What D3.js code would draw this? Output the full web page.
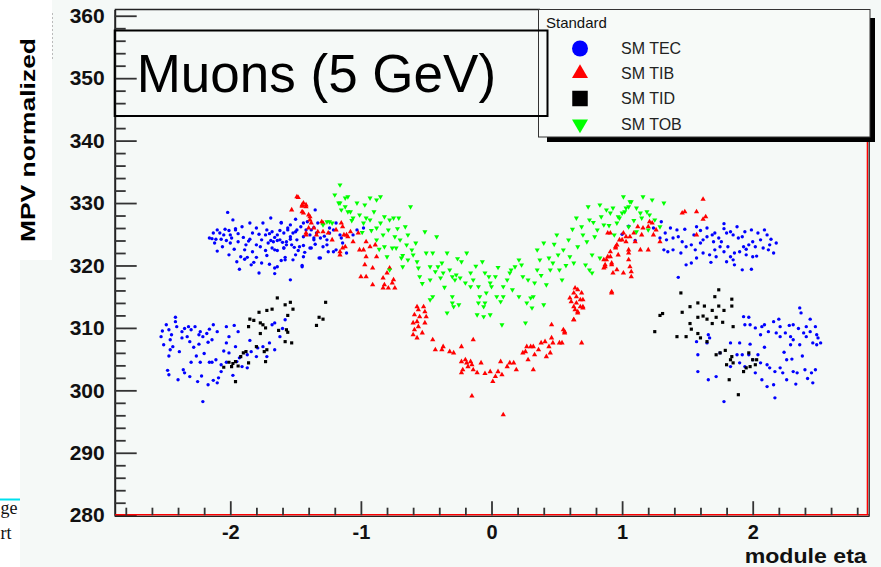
<!DOCTYPE html>
<html><head><meta charset="utf-8">
<script src="https://cdn.jsdelivr.net/npm/d3@7"></script>
<style>html,body{margin:0;padding:0;background:#f5f9f7;} svg{display:block}</style>
</head><body>
<svg id="c" width="881" height="567"></svg>
<script>
// ---------------- data ----------------
const yMajorTicks = [280,290,300,310,320,330,340,350,360];
const yMinorTicks = d3.range(280, 361, 2);
const xMajorTicks = [-2,-1,0,1,2];
const xMinorTicks = [-2.8,-2.6,-2.4,-2.2,-1.8,-1.6,-1.4,-1.2,-0.8,-0.6,-0.4,-0.2,0.2,0.4,0.6,0.8,1.2,1.4,1.6,1.8,2.2,2.4,2.6,2.8];
const seriesNames = ["SM TEC","SM TIB","SM TID","SM TOB"];
const legendTitle = "Standard";
const chartTitle = "Muons (5 GeV)";
const xTitle = "module eta";
const yTitle = "MPV normalized";

const tecPoints = [
[-2.02,328.5],[-2.10,325.7],[-2.04,325.8],[-2.01,325.6],[-2.05,324.9],[-2.14,324.3],[-2.11,324.2],[-2.07,324.2],[-2.03,324.0],[-2.00,324.9],
[-1.96,325.7],[-1.94,325.1],[-1.94,323.8],[-2.00,323.6],[-2.12,323.6],[-2.10,322.3],[-2.01,321.7],[-1.92,321.4],[-1.89,321.0],[-1.87,321.3],
[-1.93,319.4],[-1.84,320.1],[-1.82,320.5],[-1.76,320.4],[-1.78,318.8],[-1.66,318.7],[-1.66,319.6],[-1.88,323.3],[-1.85,324.2],[-1.83,325.2],
[-1.80,326.0],[-1.75,326.8],[-1.72,325.7],[-1.70,325.1],[-1.66,324.5],[-1.64,324.0],[-1.62,325.6],[-1.61,326.9],[-1.71,323.6],[-1.68,322.8],
[-1.64,322.4],[-1.59,322.8],[-1.57,323.3],[-1.54,324.2],[-1.52,325.2],[-1.49,325.7],[-1.46,326.2],[-1.44,326.8],[-1.41,327.0],[-1.38,325.7],
[-1.36,326.1],[-1.33,326.8],[-1.54,326.5],[-1.58,321.3],[-1.61,320.8],[-1.52,320.9],[-1.45,320.0],[-1.54,317.7],[-1.50,321.7],[-1.48,322.4],
[-1.44,323.2],[-1.39,322.8],[-1.32,321.2],[-1.36,324.4],[-1.77,323.0],[-1.73,322.4],[-1.72,321.6],[-1.80,321.3],[-1.83,322.2],[-1.89,322.5],
[-1.59,325.2],[-1.56,325.7],[-1.90,324.5],[-1.91,326.2],[-1.96,325.9],[-2.13,325.2],[-2.08,325.2],[-1.99,324.4],[-1.80,323.3],[-1.76,324.1],
[-1.73,324.9],[-1.26,324.1],[-1.24,325.2],[-1.29,323.0],[-1.25,322.2],[-1.21,325.7],[-1.16,324.9],[-1.14,323.6],[-1.19,322.5],
[-1.68,325.4],[-1.64,324.9],[-1.67,323.8],[-1.62,324.1],[-1.66,322.5],[-1.59,322.8],[-1.57,323.8],[-1.54,324.6],[-1.61,326.8],[-1.56,326.0],
[-1.50,325.4],[-1.49,324.1],[-1.53,323.3],[-1.47,323.0],[-1.44,324.6],[-1.42,325.7],[-1.39,324.9],[-1.36,324.1],[-1.35,328.9],[-1.34,325.2],
[-1.31,324.4],[-1.38,322.8],[-1.44,321.4],[-1.58,320.9],[-1.64,319.8],[-1.45,319.8],[-1.31,321.2],[-1.26,323.3],[-1.21,322.2],[-1.15,324.4],
[-1.11,322.0],[-1.03,325.7],[-0.98,326.0],[-1.06,324.9],[-1.19,326.8],[-1.24,326.0],
[-2.16,324.4],[-2.06,323.0],[-1.97,322.6],[-1.86,323.9],[-1.78,325.0],[-1.69,324.0],[-1.60,323.7],[-1.51,322.9],[-1.43,322.1],[-1.35,323.4],
[-1.28,324.7],[-1.95,320.6],[-1.70,320.2],[-1.98,327.3],[-1.85,326.8],[-1.69,327.6],[-1.50,327.4],
[-2.42,311.7],[-2.42,311.0],[-2.49,310.5],[-2.47,309.7],[-2.53,308.6],[-2.45,308.9],[-2.51,307.3],[-2.46,308.1],[-2.46,306.5],[-2.47,305.5],
[-2.41,310.2],[-2.37,309.4],[-2.35,309.9],[-2.32,310.2],[-2.30,309.7],[-2.27,310.2],[-2.37,308.4],[-2.33,308.6],[-2.31,307.8],[-2.24,308.9],
[-2.23,309.4],[-2.21,308.6],[-2.18,309.1],[-2.16,309.8],[-2.13,310.5],[-2.10,309.4],[-2.17,307.7],[-2.24,307.4],[-2.14,308.1],[-2.03,310.2],
[-1.97,310.4],[-2.01,308.6],[-1.94,309.4],[-2.03,307.6],[-2.26,305.5],[-2.30,304.5],[-2.23,304.5],[-2.16,304.5],[-2.11,304.9],[-2.48,303.2],
[-2.47,302.5],[-2.36,303.3],[-2.35,302.8],[-2.40,301.7],[-2.31,302.2],[-2.25,301.4],[-2.22,302.3],[-2.21,298.2],[-2.17,300.9],[-2.13,301.6],
[-2.09,302.0],[-2.07,303.0],[-2.07,304.1],[-2.03,304.5],[-2.01,306.0],[-1.96,307.0],[-1.95,304.6],[-1.93,305.2],[-1.87,305.7],[-1.84,306.2],
[-1.80,305.4],[-1.79,306.8],[-1.75,307.0],[-1.72,305.4],[-1.70,307.6],[-1.66,306.5],[-1.68,310.5],[-1.66,310.8],[-1.87,303.6],[-1.91,303.8],
[-2.10,301.2],[-2.14,304.5],[-2.52,309.5],[-2.44,307.0],[-2.39,306.2],[-2.28,306.9],[-2.20,305.9],[-2.05,306.3],[-1.98,302.4],[-1.85,308.0],
[-1.62,308.6],[-1.60,309.9],[-1.58,311.3],
[1.78,326.7],[1.65,326.0],[1.57,326.2],[1.55,324.9],[1.48,325.8],[1.42,325.7],[1.37,326.0],[1.33,325.2],[1.29,324.4],[1.34,324.1],
[1.39,324.4],[1.43,324.6],[1.46,323.8],[1.49,323.0],[1.53,323.3],[1.56,322.5],[1.60,323.6],[1.62,324.1],[1.65,324.6],[1.69,324.9],
[1.71,325.2],[1.74,324.4],[1.76,323.8],[1.80,325.2],[1.83,325.4],[1.85,324.9],[1.89,324.4],[1.92,324.6],[1.94,325.4],[1.99,325.7],
[2.04,325.2],[2.09,325.7],[2.11,324.9],[2.06,324.1],[2.00,323.8],[1.97,323.3],[1.93,323.0],[1.90,322.2],[1.86,322.0],[1.83,321.4],
[1.78,322.2],[1.75,323.0],[1.71,322.5],[1.67,321.7],[1.62,322.0],[1.57,321.2],[1.53,320.4],[1.49,320.1],[1.72,321.4],[1.85,320.9],
[1.86,320.1],[1.92,319.3],[1.99,319.4],[2.00,321.4],[2.03,321.5],[2.08,322.8],[2.12,322.5],[2.16,322.0],[2.13,323.3],[1.43,318.1],
[1.39,322.5],[1.35,322.2],[1.32,322.5],[1.24,326.0],[1.70,323.8],[1.81,323.0],[1.95,321.7],[1.80,320.6],
[1.00,325.0],[1.05,326.3],[1.10,324.0],[1.30,327.0],[1.45,322.0],[1.60,325.6],[1.78,325.9],[1.88,326.2],[2.02,323.0],[2.14,324.2],
[1.68,320.5],[1.95,322.6],[2.18,323.6],
[2.36,313.2],[2.37,312.4],[1.93,311.8],[1.97,311.7],[2.16,311.0],[1.94,310.5],[1.98,310.5],[2.07,310.2],[2.09,310.5],[2.21,310.2],
[2.31,310.5],[2.35,309.9],[2.41,310.2],[2.44,309.4],[2.48,310.2],[2.49,308.9],[2.06,308.9],[2.12,309.4],[2.18,309.2],[2.21,308.6],
[2.25,309.2],[2.29,308.6],[2.31,308.1],[2.39,309.2],[2.41,308.6],[2.46,307.6],[2.49,307.3],[2.36,307.3],[2.29,307.3],[1.66,308.9],
[1.67,308.4],[1.57,307.8],[1.65,307.6],[1.58,305.7],[1.75,306.0],[1.83,307.6],[1.90,307.6],[1.92,305.7],[1.97,305.7],[2.04,305.7],
[2.00,304.9],[2.06,304.4],[2.11,304.1],[2.13,303.6],[2.17,303.0],[2.21,303.6],[2.23,302.8],[2.26,304.9],[2.31,303.0],[2.34,302.8],
[2.40,303.3],[2.45,302.8],[2.48,303.3],[2.46,301.2],[2.26,301.7],[2.16,300.9],[2.11,300.6],[2.07,301.7],[2.17,298.8],[2.02,302.8],
[1.90,304.4],[1.88,305.7],[1.83,303.8],[1.72,302.2],[1.66,301.7],[1.78,298.2],[1.58,303.0],[1.94,303.8],
[2.52,307.6],[2.50,308.4],[2.44,311.4],[2.28,310.4],[2.20,311.4],[2.02,310.0],[2.38,305.5],[2.30,305.0],[2.24,306.1],[2.09,306.9],
[1.98,307.4],[2.42,301.9],[2.33,301.0]
];

const tibPoints = [
[-1.49,331.0],[-1.53,328.9],[-1.45,329.7],[-1.42,329.4],[-1.44,328.4],[-1.39,327.8],[-1.38,326.8],[-1.40,326.0],[-1.42,324.9],[-1.33,325.4],
[-1.29,326.8],[-1.25,325.2],[-1.19,325.7],[-1.14,326.2],[-1.11,324.9],[-1.16,322.2],[-1.14,322.8],
[-1.48,330.9],[-1.45,329.5],[-1.44,330.0],[-1.42,329.7],[-1.45,328.6],[-1.40,328.1],[-1.39,327.3],[-1.36,326.0],[-1.42,325.2],
[-1.34,324.9],[-1.30,327.0],[-1.29,325.4],[-1.22,324.1],[-1.15,326.8],[-1.13,324.9],[-1.10,324.6],[-1.08,325.4],[-1.06,323.8],[-1.16,321.7],
[-1.12,323.0],[-1.02,325.2],[-1.01,322.5],[-0.98,322.5],[-0.96,323.8],[-0.96,321.4],[-0.97,320.1],[-0.93,323.0],[-0.89,323.3],[-0.88,321.4],
[-1.00,318.2],[-0.96,318.2],[-0.91,319.6],[-0.91,316.9],[-0.83,318.0],[-0.82,316.9],[-0.80,318.8],[-0.79,316.4],[-0.76,317.2],[-0.75,317.7],
[-0.83,316.4],[-0.74,316.4],[-0.78,319.6],
[-0.57,313.4],[-0.56,312.9],[-0.59,312.1],[-0.55,311.8],[-0.57,311.0],[-0.56,310.2],[-0.59,309.7],[-0.60,308.9],[-0.57,308.4],[-0.51,312.6],
[-0.50,311.8],[-0.51,310.8],[-0.52,313.4],[-0.53,309.2],[-0.60,310.8],
[-0.45,308.1],[-0.43,306.5],[-0.38,306.5],[-0.37,307.0],[-0.32,306.2],[-0.29,306.0],[-0.23,307.0],[-0.23,304.6],[-0.20,304.9],[-0.19,304.4],
[-0.16,304.6],[-0.18,303.8],[-0.15,304.1],[-0.14,303.3],[-0.22,303.3],[-0.23,302.8],[-0.14,308.1],[-0.11,302.8],[-0.08,304.4],[-0.05,302.7],
[-0.15,299.1],[-0.01,303.0],[0.03,302.2],[0.05,303.0],[0.07,304.6],[0.08,302.5],[0.01,301.4],[0.09,296.1],[0.12,303.8],[0.14,304.4],
[0.17,304.4],[0.19,303.3],[0.26,306.2],[0.27,307.0],[0.30,307.0],[0.28,304.9],[0.32,307.0],[0.33,305.7],[0.32,303.3],[0.36,306.5],
[0.38,307.6],[0.41,307.8],[0.44,307.0],[0.45,306.0],[0.42,305.4],[0.46,308.4],[0.47,307.6],[0.46,310.5],[0.52,307.6],[0.55,309.7],
[0.56,309.2],[0.63,311.3],[0.69,307.6],[0.24,306.0],
[0.64,316.4],[0.66,316.1],[0.63,315.6],[0.65,315.0],[0.69,315.6],[0.70,314.5],[0.61,314.2],[0.65,314.0],[0.68,313.4],[0.63,313.4],
[0.66,312.6],[0.70,313.2],[0.60,314.8],[0.68,314.5],[0.70,313.4],[0.64,312.9],[0.66,312.4],[0.63,311.3],[0.56,309.4],[0.54,307.6],
[0.86,320.9],[0.87,320.1],[0.89,321.4],[0.91,322.2],[0.92,320.4],[0.95,323.0],[0.96,319.3],[0.89,325.2],[0.98,324.1],[1.01,325.2],
[1.03,324.6],[1.05,322.0],[1.01,318.8],[0.92,315.6],
[1.62,330.6],[1.46,328.4],[1.48,328.6],[1.57,328.6],[1.64,327.8],[1.62,327.4],[1.21,327.0],[1.23,326.8],[1.20,326.2],[1.16,326.0],
[1.12,326.2],[1.26,325.7],[1.24,324.9],[1.09,325.2],[1.06,324.6],[1.10,323.8],[1.03,323.8],[1.00,324.1],[0.96,323.3],[0.95,322.8],
[1.05,322.5],[1.14,322.5],[1.20,322.5],[0.91,325.2],[0.91,321.4],[0.88,320.9],[0.87,319.8],[0.92,320.1],[0.86,319.6],[1.05,320.9],
[1.06,319.8],[1.07,319.0],[1.07,318.2],[0.93,318.8],[0.97,321.7],[0.92,315.8],[1.57,324.9],[1.29,323.8],[1.15,324.9]
];

const tidPoints = [
[-1.64,314.8],[-1.58,313.7],[-1.54,314.1],[-1.52,313.0],[-1.68,313.0],[-1.72,312.8],[-1.78,312.5],[-1.85,311.4],[-1.82,311.2],[-1.56,312.0],
[-1.77,310.8],[-1.75,310.5],[-1.73,310.0],[-1.86,310.2],[-1.77,309.1],[-1.63,309.6],[-1.57,309.7],[-1.56,309.3],[-1.58,307.8],[-1.53,307.6],
[-1.80,307.0],[-1.74,306.2],[-1.72,306.5],[-1.73,304.6],[-1.88,306.2],[-1.90,306.0],[-1.92,305.4],[-1.96,304.6],[-1.94,303.9],[-1.98,304.3],
[-2.01,304.5],[-1.99,303.8],[-2.05,303.7],[-1.86,304.4],[-1.96,301.4],[-1.27,314.1],[-1.32,311.7],[-1.29,311.4],[-1.34,310.4],
[1.74,316.1],[1.45,315.6],[1.71,315.0],[1.84,314.6],[1.52,313.4],[1.58,314.0],[1.63,313.5],[1.74,313.5],[1.84,313.5],[1.69,312.8],
[1.78,312.8],[1.46,312.5],[1.29,312.0],[1.31,312.3],[1.58,311.7],[1.62,311.9],[1.65,311.4],[1.72,311.7],[1.77,310.9],[1.69,310.7],
[1.85,310.2],[1.25,309.4],[1.52,310.7],[1.53,309.8],[1.58,309.1],[1.42,308.6],[1.49,308.6],[1.60,308.4],[1.65,307.8],[1.72,305.7],
[1.75,306.0],[1.79,306.4],[1.84,305.4],[1.83,304.9],[1.80,304.1],[1.85,304.4],[1.93,303.0],[1.95,303.6],[1.98,303.8],[2.02,304.1],
[2.00,304.9],[2.03,304.9],[1.97,306.0],[1.82,301.7],[1.89,299.3]
];

const tobPoints = [
[-1.16,332.9],[-1.20,331.3],[-1.10,331.0],[-1.17,330.0],[-1.12,329.4],[-1.15,328.9],[-1.08,328.6],[-1.03,330.0],[-0.97,329.7],[-0.93,330.8],
[-0.88,330.5],[-0.85,331.0],[-0.90,328.6],[-1.01,328.1],[-1.06,327.6],[-1.24,327.0],[-1.29,326.5],[-0.96,327.6],[-0.98,326.8],[-0.93,327.3],
[-0.88,326.0],[-0.85,326.8],[-0.82,327.8],[-0.78,327.3],[-0.75,327.6],[-0.71,327.6],[-0.79,325.7],[-0.74,324.6],[-0.83,324.9],[-0.88,324.1],
[-0.82,323.0],[-0.76,322.8],[-0.73,322.8],[-0.70,324.1],[-0.66,326.2],[-0.62,329.4],[-0.64,324.9],[-0.65,323.3],[-0.61,322.5],[-0.80,321.4],
[-0.78,319.3],[-0.69,321.2],[-0.68,319.8],[-0.64,320.9],[-0.60,321.7],[-0.57,320.6],[-0.56,319.6],[-0.55,318.2],[-0.51,325.4],[-0.50,322.0],
[-0.47,319.8],[-0.45,322.0],[-0.42,324.6],[-0.43,319.0],[-0.47,317.7],[-0.41,319.8],[-0.38,320.4],[-0.37,318.8],[-0.39,318.0],[-0.34,322.0],
[-0.32,319.3],[-0.30,318.2],[-0.28,317.7],[-0.27,318.5],[-0.24,318.0],[-0.23,320.6],[-0.19,322.0],[-0.20,317.2],[-0.16,318.8],[-0.16,316.6],
[-0.14,317.7],[-0.10,316.6],[-0.09,315.0],[-0.05,318.8],[-0.02,318.2],[-0.01,317.2],[0.00,316.6],[-0.04,315.6],[-0.05,314.0],[-0.06,313.4],
[-0.10,314.0],[-0.11,312.1],[-0.06,311.8],[-0.01,312.1],[-0.45,315.0],[-0.47,314.5],[-0.30,315.0],[-0.30,314.0],[-0.29,313.4],[-0.34,312.4],
[-0.25,313.7],[0.04,315.0],[0.07,314.2],[0.09,315.0],[0.08,310.5],[0.03,318.2],[0.09,316.6],[0.12,317.7],[0.14,318.8],[0.15,319.3],
[0.18,319.8],[0.21,315.0],[0.21,320.9],[0.23,320.1],[0.26,310.8],[0.27,314.0],[0.28,317.7],[0.30,314.8],[0.31,313.2],[0.32,315.0],
[0.33,317.2],[0.35,319.3],[0.35,322.5],[0.37,320.9],[0.40,323.6],[0.40,313.7],[0.42,316.9],[0.44,321.2],[0.45,319.3],[0.47,320.4],
[0.50,324.9],[0.51,321.7],[0.52,319.3],[0.54,317.7],[0.55,322.5],[0.59,324.1],[0.60,321.4],[0.63,320.4],[0.65,327.6],[0.66,323.0],
[0.69,326.2],[0.70,324.9],[0.73,323.8],[0.74,329.4],[0.75,327.3],[0.77,321.7],[0.79,324.6],[0.81,325.7],[0.83,329.7],[0.84,327.8],
[0.86,326.5],[0.88,328.9],[0.91,328.4],[0.93,329.2],[0.96,326.8],[0.97,327.8],[1.00,328.4],[1.01,331.0],[1.03,329.2],[1.06,330.2],
[0.75,319.3],[0.83,321.2],[0.72,320.1],[0.77,318.8],
[1.16,331.0],[1.23,330.5],[1.32,330.0],[1.07,330.2],[1.05,329.4],[1.11,329.2],[1.14,328.4],[1.19,328.6],[1.21,328.1],[1.15,327.6],
[1.25,327.3],[1.29,326.2],[1.20,325.7],[1.11,325.4],[1.02,328.6],[0.98,327.6],[1.05,326.2],
[-1.16,330.0],[-1.12,330.8],[-1.10,328.6],[-1.22,326.8],[-1.26,327.0],[-1.07,327.2],[-0.99,325.3],[-0.92,325.6],[-0.86,322.6],[-0.72,325.9],
[-0.68,321.6],[-0.58,323.6],[-0.53,317.1],[-0.36,316.5],[-0.26,321.1],[-0.12,319.9],[-0.07,320.6],[0.05,319.7],[0.16,316.1],[0.24,318.2],
[0.38,318.4],[0.48,323.4],[0.57,320.0],[0.62,325.8],[0.78,326.9],[0.90,326.4],[0.94,324.9],[1.09,327.2]
];

// ---------------- drawing ----------------
const W = 881, H = 567;
const svg = d3.select("#c");
const x = d3.scaleLinear().domain([-2.885, 2.885]).range([114.7, 868.3]);
const y = d3.scaleLinear().domain([280, 361]).range([515.2, 9.5]);
const FONT = "'Liberation Sans', Arial, Helvetica, sans-serif";
const SERIF = "'Liberation Serif', 'Times New Roman', serif";

svg.append("rect").attr("width", W).attr("height", H).attr("fill", "#f5f9f7");

// slide remnants on the left
svg.append("rect").attr("x",0).attr("y",0).attr("width",52).attr("height",260).attr("fill","#fff");
svg.append("rect").attr("x",0).attr("y",260).attr("width",20).attr("height",307).attr("fill","#fff");
svg.append("line").attr("x1",52.5).attr("x2",52.5).attr("y1",13).attr("y2",60)
  .attr("stroke","#bbb").attr("stroke-dasharray","2,2");
const defs = svg.append("defs");
defs.append("clipPath").attr("id","plotclip").append("rect").attr("x",114.7).attr("y",9.5).attr("width",753.6).attr("height",505.7);
svg.append("line").attr("x1",0).attr("x2",20).attr("y1",499.5).attr("y2",499.5).attr("stroke","#00e0ee").attr("stroke-width",2);
svg.append("text").attr("x",0.5).attr("y",514).style("font-family",SERIF).style("font-size","18px").attr("fill","#111").text("ge");
svg.append("text").attr("x",0.5).attr("y",539).style("font-family",SERIF).style("font-size","18px").attr("fill","#111").text("rt");

// Y title
svg.append("text").attr("transform","translate(35,140) rotate(-90)")
  .attr("text-anchor","middle").attr("textLength",204).attr("lengthAdjust","spacingAndGlyphs")
  .style("font-family",FONT).style("font-weight","bold").style("font-size","19.5px").text(yTitle);

// points
const styles = [
  {pts: tecPoints, color:"#0000ff", type:d3.symbolCircle,  size:9,  rot:0,   leg:200},
  {pts: tibPoints, color:"#ff0000", type:d3.symbolTriangle, size:12, rot:0,   leg:111},
  {pts: tidPoints, color:"#000000", type:d3.symbolSquare,  size:10, rot:0,   leg:240},
  {pts: tobPoints, color:"#00ff00", type:d3.symbolTriangle, size:11, rot:180, leg:111}
];
const plot = svg.append("g").attr("clip-path","url(#plotclip)");
styles.forEach(s => {
  const sym = d3.symbol().type(s.type).size(s.size);
  plot.append("g").selectAll("path").data(s.pts).join("path")
    .attr("d", sym)
    .attr("transform", d => `translate(${x(d[0])},${y(d[1])}) rotate(${s.rot})`)
    .attr("fill", s.color);
});

// Axes
const tickColor = "#333";
const yAx = svg.append("g").attr("transform", `translate(${x.range()[0]},0)`)
  .call(d3.axisLeft(y).tickValues(yMajorTicks).tickSize(-22).tickSizeOuter(0).tickPadding(10).tickFormat(d => String(d)));
svg.append("g").attr("transform", `translate(${x.range()[0]},0)`)
  .call(d3.axisLeft(y).tickValues(yMinorTicks.filter(v => v % 10 !== 0)).tickSize(-11).tickSizeOuter(0).tickFormat(""))
  .call(g => g.select(".domain").remove());
yAx.selectAll("text").style("font-family",FONT).style("font-weight","bold").style("font-size","21px").attr("fill","#111");

const xAx = svg.append("g").attr("transform", `translate(0,515.2)`)
  .call(d3.axisBottom(x).tickValues(xMajorTicks).tickSize(-14).tickSizeOuter(0).tickPadding(10).tickFormat(d => String(d)));
svg.append("g").attr("transform", `translate(0,515.2)`)
  .call(d3.axisBottom(x).tickValues(xMinorTicks).tickSize(-7.5).tickSizeOuter(0).tickFormat(""))
  .call(g => g.select(".domain").remove());
xAx.selectAll("text").style("font-family",FONT).style("font-weight","bold").style("font-size","20px").attr("fill","#111");
svg.selectAll(".tick line").attr("stroke", tickColor).attr("stroke-width", 1.8);
yAx.select(".domain").attr("stroke","#222").attr("stroke-width",2);
xAx.select(".domain").attr("stroke","#ff0000").attr("stroke-width",1.6).attr("transform","translate(0,-1)");

// frame
svg.append("line").attr("x1",114.7).attr("x2",869).attr("y1",516.4).attr("y2",516.4).attr("stroke","#222").attr("stroke-width",1.2);
svg.append("line").attr("x1",114.7).attr("x2",540).attr("y1",9.5).attr("y2",9.5).attr("stroke","#222").attr("stroke-width",1.5);
svg.append("line").attr("x1",867.4).attr("x2",867.4).attr("y1",9.5).attr("y2",515).attr("stroke","#ff0000").attr("stroke-width",1.4);
svg.append("line").attr("x1",869.2).attr("x2",869.2).attr("y1",9.5).attr("y2",516.8).attr("stroke","#222").attr("stroke-width",1.3);

// x title
svg.append("text").attr("x",866.7).attr("y",562.5).attr("text-anchor","end")
  .attr("textLength",122).attr("lengthAdjust","spacingAndGlyphs")
  .style("font-family",FONT).style("font-weight","bold").style("font-size","20px").attr("fill","#111").text(xTitle);

// Legend
svg.append("rect").attr("x",547).attr("y",18).attr("width",328).attr("height",124).attr("fill","#000");
svg.append("rect").attr("x",538.5).attr("y",9.5).attr("width",331.5).attr("height",127.5)
  .attr("fill","#f7faf8").attr("stroke","#333").attr("stroke-width",1);
svg.append("text").attr("x",546).attr("y",27.5).style("font-family",FONT).style("font-size","15px").attr("fill","#111").text(legendTitle);
const legY = [48.5, 73.5, 98.5, 124];
seriesNames.forEach((name, i) => {
  const s = styles[i];
  const sym = d3.symbol().type(s.type).size(s.leg);
  svg.append("path").attr("d", sym)
    .attr("transform", `translate(580,${legY[i]}) rotate(${s.rot})`).attr("fill", s.color);
  svg.append("text").attr("x",621).attr("y",legY[i]).attr("dy","0.36em")
    .style("font-family",FONT).style("font-size","16px").attr("fill","#222").text(name);
});

// Title box (drawn over the legend, as in the original)
svg.append("rect").attr("x",114.7).attr("y",30.5).attr("width",432.8).attr("height",85.5)
  .attr("fill","none").attr("stroke","#000").attr("stroke-width",2);
svg.append("text").attr("x",136.7).attr("y",92).style("font-family",FONT).style("font-size","53px").attr("fill","#000").text(chartTitle);
</script>
</body></html>
